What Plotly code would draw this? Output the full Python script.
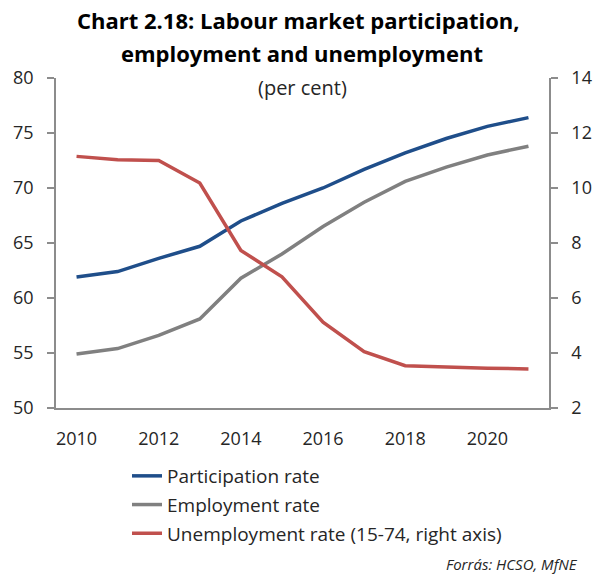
import plotly.graph_objects as go

years = list(range(2010, 2022))
participation = [61.9, 62.4, 63.6, 64.7, 67.0, 68.6, 70.0, 71.7, 73.2, 74.5, 75.6, 76.4]
employment = [54.9, 55.4, 56.6, 58.1, 61.8, 64.0, 66.5, 68.7, 70.6, 71.9, 73.0, 73.8]
unemployment = [11.15, 11.03, 11.0, 10.18, 7.73, 6.77, 5.12, 4.05, 3.54, 3.48, 3.45, 3.42]

series_names = ["Participation rate", "Employment rate", "Unemployment rate (15-74, right axis)"]
colors = ["#1F4E8A", "#808080", "#C0504D"]

x_tickvals = [2010, 2012, 2014, 2016, 2018, 2020]
left_ticks = [50, 55, 60, 65, 70, 75, 80]
right_ticks = [2, 4, 6, 8, 10, 12, 14]

FONT = "Open Sans"
TXT = "#262626"

# plot-area geometry in pixels (used to place paper-referenced text)
PLOT_L, PLOT_R, PLOT_T, PLOT_B = 56, 549, 78, 408
PW, PH = PLOT_R - PLOT_L, PLOT_B - PLOT_T


def px(x):
    return (x - PLOT_L) / PW


def py(y):
    return (PLOT_B - y) / PH


fig = go.Figure()
axes = ["y", "y", "y2"]
values = [participation, employment, unemployment]
for name, col, vals, ax in zip(series_names, colors, values, axes):
    fig.add_trace(go.Scatter(x=years, y=vals, name=name, mode="lines", yaxis=ax,
                             legendgroup=name,
                             line=dict(color=col, width=3.5)))

axis_line = dict(showline=True, linecolor="#8C8C8C", linewidth=1.5, showgrid=False,
                 zeroline=False, automargin=False)

fig.update_layout(
    width=595, height=577,
    margin=dict(l=PLOT_L, r=595 - PLOT_R, t=PLOT_T, b=577 - PLOT_B),
    paper_bgcolor="white", plot_bgcolor="white",
    font=dict(family=FONT, size=18, color=TXT),
    showlegend=True,
    legend=dict(x=px(127), y=py(457), xanchor="left", yanchor="top",
                font=dict(size=19, color=TXT), tracegroupgap=1,
                bgcolor="rgba(0,0,0,0)"),
    xaxis=dict(range=[2009.5, 2021.5], tickvals=x_tickvals, ticks="",
               ticklabelstandoff=14, **axis_line),
    yaxis=dict(range=[50, 80], tickvals=left_ticks, ticks="outside", ticklen=7,
               tickcolor="#8C8C8C", tickwidth=1.5, ticklabelstandoff=10, **axis_line),
    yaxis2=dict(range=[2, 14], tickvals=right_ticks, overlaying="y", side="right",
                ticks="outside", ticklen=7, tickcolor="#8C8C8C", tickwidth=1.5,
                ticklabelstandoff=10, **axis_line),
    annotations=[
        dict(text="<b>Chart 2.18: Labour market participation,</b>",
             xref="paper", yref="paper", x=px(298), y=py(20), xanchor="center",
             yanchor="middle", showarrow=False, font=dict(size=22, color="black")),
        dict(text="<b>employment and unemployment</b>",
             xref="paper", yref="paper", x=px(302), y=py(53), xanchor="center",
             yanchor="middle", showarrow=False, font=dict(size=22, color="black")),
        dict(text="(per cent)", xref="paper", yref="paper", x=px(302), y=py(88),
             xanchor="center", yanchor="middle", showarrow=False,
             font=dict(size=20, color=TXT)),
        dict(text="<i>Forrás: HCSO, MfNE</i>", xref="paper", yref="paper",
             x=px(580), y=py(564), xanchor="right", yanchor="middle",
             showarrow=False, font=dict(size=15, color=TXT)),
    ],
)

fig.write_html("out.html")
